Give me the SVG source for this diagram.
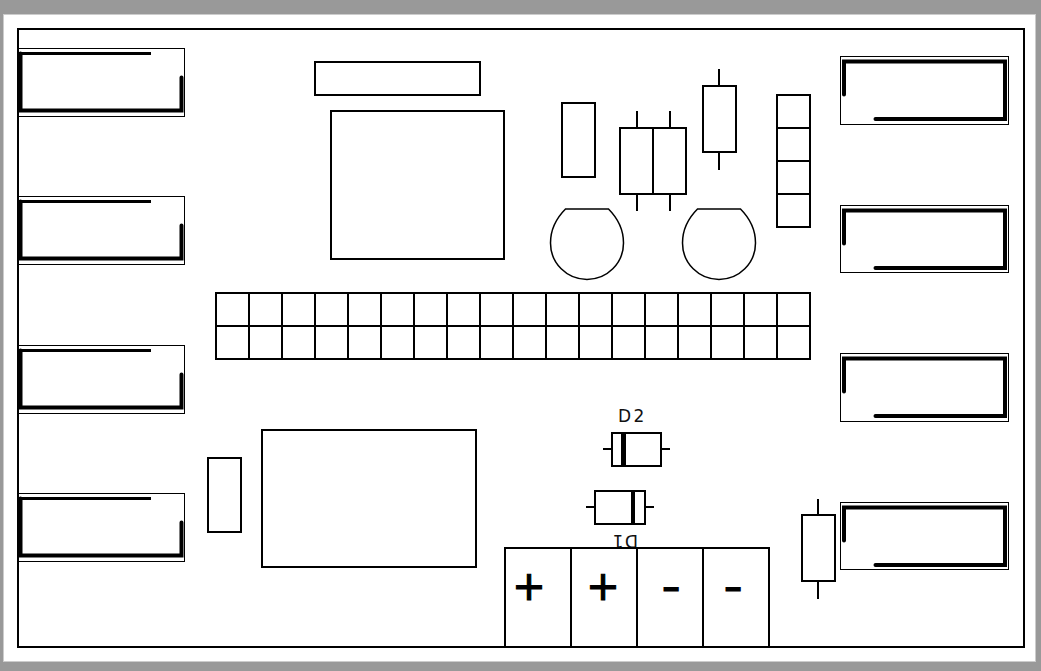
<svg xmlns="http://www.w3.org/2000/svg" width="1041" height="671" viewBox="0 0 1041 671">
<style>
.o{fill:none;stroke:#000;stroke-width:2}
.thin{fill:none;stroke:#000;stroke-width:1}
.thick{fill:none;stroke:#000;stroke-width:4;stroke-linecap:round}
.top{fill:none;stroke:#000;stroke-width:3}
.cap{fill:none;stroke:#000;stroke-width:1.500}
.t{font-family:"DejaVu Sans",sans-serif;fill:#111}
.s{font-family:"DejaVu Sans",sans-serif;fill:#000;stroke:#000;stroke-width:1.200;font-size:40px;text-anchor:middle}
</style>
<defs>
<g id="connL"><rect class="thin" x="18.5" y="0.5" width="166" height="68"/><path class="top" d="M151 5.500H20.500"/><path class="thick" d="M20.500 5.500V62.500H181.500V29.500"/></g>
<g id="connR"><path class="thick" d="M844 38.500V5.500H1005V63H875.500"/></g>
</defs>
<rect width="1041" height="671" fill="#999"/>
<rect x="3.500" y="14.500" width="1032" height="647" fill="#fff" stroke="#ccc"/>
<rect id="frame" class="o" x="18" y="29" width="1006" height="618"/>
<g id="conn-l1" transform="translate(0,48)"><use href="#connL"/></g>
<g id="conn-l2" transform="translate(0,196)"><use href="#connL"/></g>
<g id="conn-l3" transform="translate(0,345)"><use href="#connL"/></g>
<g id="conn-l4" transform="translate(0,493)"><use href="#connL"/></g>
<g id="conn-r1" transform="translate(0,56)"><rect class="thin" x="840.500" y="0.500" width="168" height="68"/><use href="#connR"/></g>
<g id="conn-r2" transform="translate(0,205)"><rect class="thin" x="840.500" y="0.500" width="168" height="67"/><use href="#connR"/></g>
<g id="conn-r3" transform="translate(0,353)"><rect class="thin" x="840.500" y="0.500" width="168" height="68"/><use href="#connR"/></g>
<g id="conn-r4" transform="translate(0,502)"><rect class="thin" x="840.500" y="0.500" width="168" height="67"/><use href="#connR"/></g>
<g id="u-header"><rect class="o" x="315" y="62" width="165" height="33"/></g>
<g id="u-main"><rect class="o" x="331" y="111" width="173" height="148"/></g>
<g id="r-a"><rect class="o" x="562" y="103" width="33" height="74"/></g>
<g id="r-pair"><path class="o" d="M637 111V128M670 111V128M637 194V211M670 194V211"/><rect class="o" x="620" y="128" width="66" height="66"/><path class="o" d="M653 128V194"/></g>
<g id="r-b"><path class="o" d="M719 69V86M719 152V170"/><rect class="o" x="703" y="86" width="33" height="66"/></g>
<g id="header-4"><rect class="o" x="777" y="95" width="33" height="132"/><path class="o" d="M777 128H810M777 161H810M777 194H810"/></g>
<g id="to-1"><path class="cap" d="M565.500 209H608.500Q623.500 224 623.500 243A36.500 36.500 0 0 1 550.500 243Q550.500 224 565.500 209Z"/></g>
<g id="to-2"><path class="cap" d="M697.500 209H740.500Q755.500 224 755.500 243A36.500 36.500 0 0 1 682.500 243Q682.500 224 697.500 209Z"/></g>
<g id="strip"><rect class="o" x="216" y="293" width="594" height="66"/><path class="o" d="M216 326H810M249 293V359M282 293V359M315 293V359M348 293V359M381 293V359M414 293V359M447 293V359M480 293V359M513 293V359M546 293V359M579 293V359M612 293V359M645 293V359M678 293V359M711 293V359M744 293V359M777 293V359"/></g>
<g id="r-c"><rect class="o" x="208" y="458" width="33" height="74"/></g>
<g id="u-lower"><rect class="o" x="262" y="430" width="214" height="137"/></g>
<g id="d2"><path class="o" d="M603 449H612M661 449H670"/><rect class="o" x="612" y="433" width="49" height="33"/><rect x="621" y="433" width="5" height="33"/><text class="t" x="618" y="422" font-size="17" letter-spacing="2.500">D2</text></g>
<g id="d1"><path class="o" d="M586 507H595M645 507H654"/><rect class="o" x="595" y="491" width="50" height="33"/><rect x="631" y="491" width="4" height="33"/><text class="t" font-size="17" letter-spacing="1.500" transform="translate(638,535) rotate(180)">D1</text></g>
<g id="terminal"><rect class="o" x="505" y="548" width="264" height="99"/><path class="o" d="M571 548V647M637 548V647M703 548V647"/>
<text class="s" x="529" y="600">+</text><text class="s" x="603" y="600">+</text><text class="s" transform="translate(671,601) scale(1.300,1)">-</text><text class="s" transform="translate(733,601) scale(1.300,1)">-</text></g>
<g id="r-d"><path class="o" d="M818 499V515M818 581V599"/><rect class="o" x="802" y="515" width="33" height="66"/></g>
</svg>
